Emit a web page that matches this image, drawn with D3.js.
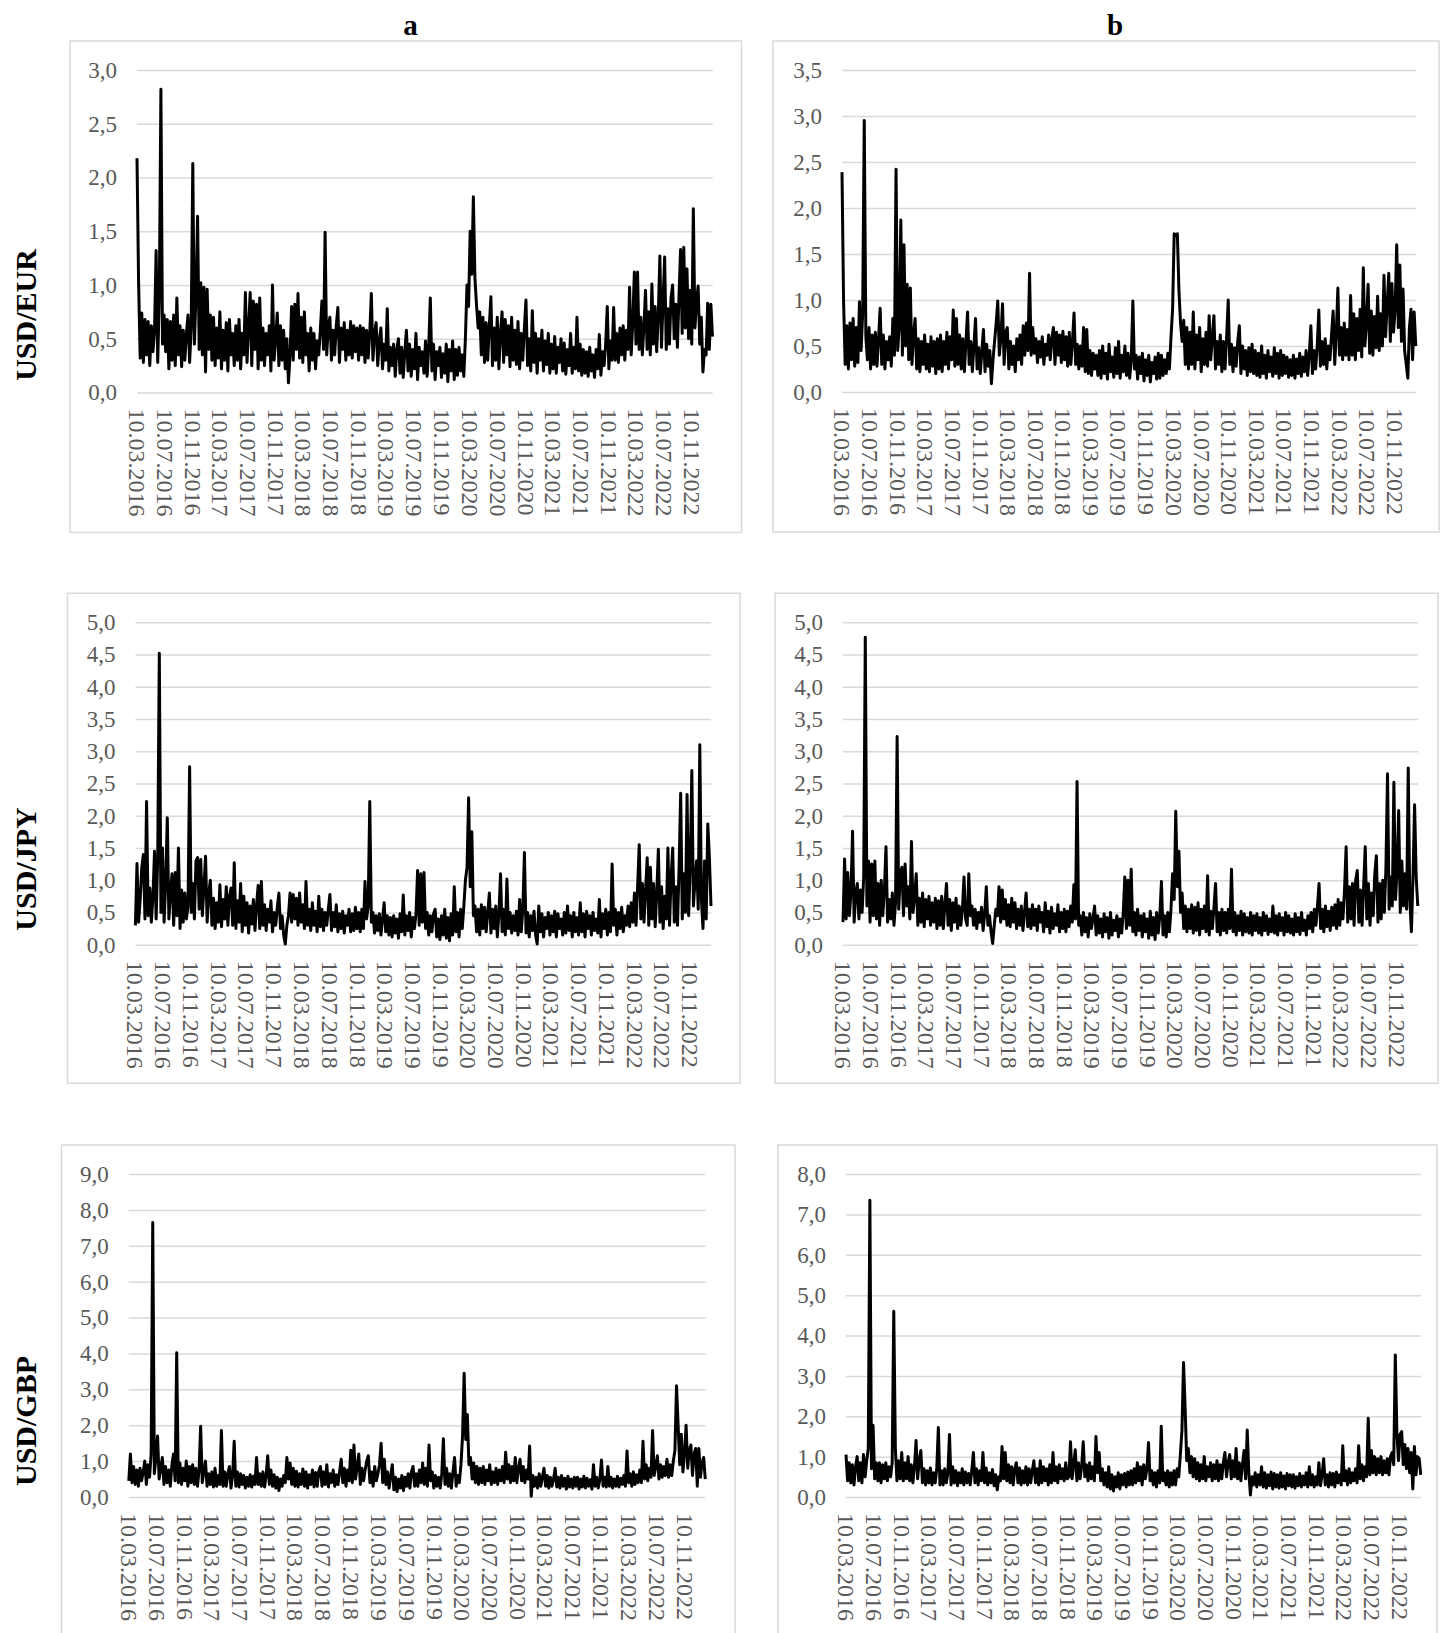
<!DOCTYPE html>
<html>
<head>
<meta charset="utf-8">
<script src="https://cdn.jsdelivr.net/npm/d3@7"></script>
<style>
    body { margin: 0; background: #ffffff; }
    svg { display: block; }
    text { font-family: "Liberation Serif", "Times New Roman", serif; }
</style>
</head>
<body>
<svg id="chart" width="1442" height="1633"></svg>
<script>
// popisky casove osy (kazde 4 mesice)
const tickLabels = [
    "10.03.2016", "10.07.2016", "10.11.2016", "10.03.2017", "10.07.2017", "10.11.2017",
    "10.03.2018", "10.07.2018", "10.11.2018", "10.03.2019", "10.07.2019", "10.11.2019",
    "10.03.2020", "10.07.2020", "10.11.2020", "10.03.2021", "10.07.2021", "10.11.2021",
    "10.03.2022", "10.07.2022", "10.11.2022"
];
const rowNames = ["USD/EUR", "USD/JPY", "USD/GBP"];
const colNames = ["a", "b"];
// rozsah dat, hodnoty jsou po tydnech
const firstDay = "10.03.2016";
const lastDay = "10.02.2023";
const stepDays = 7;

// USD/EUR, a
const eurA = [
    2.18,1.02,0.32,0.74,0.28,0.68,0.35,0.66,0.25,0.62,0.38,0.58,1.32,0.28,0.90,2.82,0.45,0.72,0.38,0.68,
    0.22,0.66,0.30,0.72,0.25,0.88,0.35,0.62,0.24,0.58,0.30,0.55,0.72,0.28,0.60,2.13,0.45,0.90,1.64,0.40,
    1.02,0.35,0.98,0.19,0.96,0.40,0.72,0.30,0.70,0.25,0.60,0.32,0.75,0.22,0.58,0.30,0.65,0.20,0.68,0.35,
    0.55,0.25,0.62,0.30,0.68,0.22,0.55,0.35,0.93,0.28,0.60,0.93,0.25,0.85,0.40,0.82,0.22,0.88,0.30,0.60,
    0.25,0.55,0.35,0.62,0.20,1.00,0.30,0.50,0.74,0.25,0.62,0.30,0.58,0.22,0.50,0.09,0.35,0.80,0.30,0.82,
    0.40,0.92,0.32,0.70,0.28,0.75,0.35,0.55,0.20,0.60,0.30,0.55,0.22,0.48,0.35,0.58,0.85,0.40,1.49,0.35,
    0.62,0.70,0.30,0.58,0.35,0.62,0.79,0.28,0.60,0.40,0.65,0.30,0.58,0.35,0.66,0.32,0.62,0.38,0.60,0.30,
    0.62,0.35,0.60,0.28,0.58,0.32,0.55,0.92,0.30,0.55,0.65,0.25,0.48,0.60,0.22,0.45,0.30,0.78,0.20,0.42,
    0.25,0.45,0.15,0.40,0.50,0.18,0.42,0.14,0.38,0.58,0.20,0.45,0.15,0.40,0.22,0.55,0.12,0.42,0.25,0.38,
    0.18,0.48,0.15,0.42,0.88,0.20,0.45,0.12,0.38,0.25,0.42,0.14,0.36,0.18,0.45,0.10,0.40,0.20,0.48,0.12,
    0.40,0.16,0.42,0.20,0.35,0.15,0.50,1.00,0.80,1.50,1.10,1.82,1.06,0.81,0.60,0.75,0.35,0.70,0.28,0.65,
    0.30,0.62,0.89,0.25,0.60,0.30,0.70,0.22,0.55,0.75,0.28,0.68,0.35,0.62,0.24,0.70,0.30,0.58,0.26,0.66,
    0.22,0.55,0.30,0.60,0.86,0.25,0.50,0.20,0.76,0.28,0.55,0.18,0.50,0.30,0.58,0.20,0.48,0.26,0.55,0.18,
    0.45,0.22,0.52,0.18,0.42,0.28,0.50,0.20,0.46,0.17,0.40,0.25,0.55,0.18,0.42,0.22,0.70,0.20,0.45,0.16,
    0.40,0.18,0.38,0.15,0.42,0.20,0.35,0.14,0.40,0.22,0.54,0.16,0.38,0.25,0.45,0.80,0.22,0.48,0.30,0.79,
    0.30,0.55,0.28,0.60,0.35,0.62,0.30,0.58,0.40,0.98,0.35,0.65,1.12,0.45,1.12,0.40,0.70,0.35,0.62,0.95,
    0.40,0.75,0.35,1.01,0.45,0.80,0.38,0.72,1.27,0.42,0.85,1.26,0.40,0.78,0.45,0.88,1.00,0.50,0.82,0.42,
    0.90,1.33,0.55,1.35,0.60,1.15,0.50,0.95,0.45,1.71,0.60,0.85,0.99,0.45,0.70,0.19,0.40,0.35,0.83,0.40,
    0.82,0.52
];

// USD/EUR, b
const eurB = [
    2.39,0.98,0.30,0.72,0.25,0.75,0.35,0.80,0.28,0.70,0.32,0.98,0.45,0.85,2.95,0.60,0.35,0.70,0.25,0.62,
    0.30,0.65,0.28,0.58,0.91,0.30,0.62,0.25,0.55,0.35,0.60,0.28,0.80,0.40,2.42,0.45,0.70,1.87,0.40,1.60,
    0.50,1.17,0.35,1.13,0.30,0.62,0.80,0.25,0.58,0.22,0.55,0.30,0.62,0.25,0.52,0.22,0.60,0.28,0.55,0.20,
    0.58,0.25,0.62,0.22,0.55,0.30,0.65,0.25,0.60,0.35,0.89,0.28,0.80,0.30,0.62,0.25,0.58,0.22,0.55,0.87,
    0.30,0.55,0.22,0.50,0.80,0.25,0.48,0.20,0.45,0.68,0.22,0.52,0.28,0.45,0.09,0.35,0.55,0.75,0.99,0.40,
    0.60,0.96,0.30,0.65,0.70,0.25,0.55,0.30,0.50,0.22,0.58,0.35,0.62,0.30,0.72,0.40,0.75,0.45,1.29,0.40,
    0.70,0.42,0.58,0.32,0.55,0.38,0.60,0.30,0.52,0.40,0.62,0.35,0.58,0.70,0.30,0.65,0.40,0.62,0.32,0.66,
    0.35,0.60,0.28,0.65,0.30,0.55,0.86,0.30,0.52,0.25,0.50,0.28,0.70,0.22,0.68,0.20,0.45,0.18,0.42,0.25,
    0.40,0.18,0.45,0.15,0.50,0.20,0.42,0.14,0.52,0.22,0.38,0.16,0.48,0.20,0.55,0.15,0.40,0.22,0.50,0.18,
    0.42,0.15,0.35,0.99,0.25,0.40,0.14,0.38,0.20,0.42,0.12,0.35,0.18,0.40,0.11,0.32,0.20,0.38,0.14,0.42,
    0.15,0.40,0.18,0.35,0.20,0.42,0.25,0.60,0.90,1.72,1.70,1.72,1.10,0.75,0.55,0.78,0.30,0.70,0.25,0.65,
    0.30,0.87,0.25,0.62,0.35,0.70,0.22,0.58,0.30,0.65,0.28,0.83,0.35,0.60,0.83,0.25,0.55,0.30,0.62,0.22,
    0.55,0.25,0.60,1.00,0.30,0.52,0.22,0.48,0.28,0.55,0.72,0.20,0.50,0.25,0.45,0.18,0.48,0.22,0.52,0.20,
    0.45,0.18,0.42,0.16,0.50,0.20,0.40,0.15,0.45,0.22,0.38,0.17,0.48,0.20,0.42,0.15,0.45,0.18,0.40,0.20,
    0.38,0.16,0.35,0.18,0.40,0.15,0.36,0.20,0.42,0.17,0.38,0.22,0.45,0.18,0.40,0.72,0.20,0.45,0.25,0.50,
    0.89,0.28,0.55,0.30,0.58,0.25,0.50,0.35,0.62,0.88,0.30,0.65,1.13,0.40,0.70,0.35,0.75,0.40,0.68,0.35,
    1.05,0.40,0.85,0.35,0.80,0.45,0.90,0.38,1.35,0.50,0.75,1.17,0.42,0.88,0.40,0.82,0.48,1.04,0.45,0.85,
    0.50,1.27,0.60,0.95,1.29,0.55,1.18,0.65,0.90,1.60,0.70,1.38,0.55,1.12,0.45,0.30,0.15,0.70,0.90,0.35,
    0.87,0.50
];

// USD/JPY, a
const jpyA = [
    0.30,1.26,0.35,0.70,1.20,1.40,0.40,2.22,0.45,0.88,0.35,0.75,1.45,0.40,1.35,4.52,0.50,1.50,0.35,0.95,
    1.97,0.40,0.80,1.10,0.30,1.12,0.45,1.50,0.25,0.85,0.35,0.80,0.40,0.60,2.76,0.50,0.95,0.40,1.30,1.35,
    0.55,1.32,0.45,0.90,1.37,0.35,0.80,1.00,0.30,0.72,0.25,0.65,0.35,0.93,0.28,0.70,0.40,0.90,0.30,0.75,
    0.88,0.30,1.27,0.25,0.68,0.35,0.95,0.20,0.75,0.30,0.65,0.18,0.60,0.32,0.70,0.22,0.62,0.92,0.25,0.98,
    0.30,0.62,0.22,0.55,0.35,0.68,0.20,0.50,0.30,0.58,0.80,0.25,0.45,0.15,0.01,0.30,0.45,0.80,0.35,0.78,
    0.40,0.72,0.30,0.80,0.35,0.62,0.25,0.98,0.30,0.55,0.22,0.65,0.30,0.52,0.20,0.75,0.28,0.55,0.22,0.50,
    0.30,0.55,0.78,0.22,0.50,0.28,0.62,0.20,0.48,0.25,0.52,0.18,0.45,0.30,0.55,0.20,0.48,0.22,0.58,0.25,
    0.50,0.20,0.55,0.25,0.98,0.40,0.60,2.22,0.35,0.50,0.18,0.45,0.22,0.48,0.15,0.40,0.65,0.20,0.45,0.15,
    0.42,0.12,0.45,0.18,0.40,0.10,0.48,0.20,0.77,0.15,0.45,0.22,0.50,0.12,0.42,0.25,0.48,1.15,0.30,1.10,
    0.35,1.12,0.25,0.50,0.15,0.45,0.20,0.48,0.55,0.12,0.40,0.08,0.45,0.15,0.55,0.10,0.42,0.06,0.48,0.15,
    0.90,0.20,0.50,0.12,0.55,0.25,0.60,1.00,1.20,2.28,0.90,1.75,0.45,0.60,0.20,0.55,0.15,0.62,0.25,0.58,
    0.20,0.50,0.80,0.18,0.55,0.25,0.60,0.12,0.48,1.10,0.20,0.55,0.15,1.02,0.25,0.50,0.18,0.45,0.22,0.52,
    0.15,0.70,0.20,0.55,1.43,0.18,0.50,0.12,0.45,0.22,0.52,0.15,0.01,0.60,0.20,0.48,0.12,0.42,0.25,0.50,
    0.15,0.45,0.20,0.52,0.12,0.48,0.25,0.40,0.15,0.50,0.18,0.60,0.22,0.45,0.12,0.50,0.20,0.42,0.15,0.65,
    0.20,0.48,0.12,0.52,0.25,0.45,0.15,0.50,0.22,0.40,0.18,0.70,0.12,0.48,0.25,0.55,0.15,0.50,0.20,1.25,
    0.30,0.55,0.15,0.50,0.25,0.58,0.20,0.45,0.30,0.60,0.28,0.65,0.35,0.80,0.30,0.90,1.55,0.40,0.95,0.35,
    0.85,1.35,0.30,1.20,0.40,0.95,0.28,0.80,1.48,0.35,0.90,0.25,0.75,0.40,1.50,0.30,1.05,1.50,0.35,0.90,
    0.30,1.20,2.35,0.40,1.10,0.50,2.33,0.45,1.25,2.70,0.60,1.00,1.30,0.55,3.10,0.70,0.25,1.30,0.40,1.87,
    1.35,0.60
];

// USD/JPY, b
const jpyB = [
    0.35,1.33,0.40,1.12,0.45,0.80,1.76,0.35,0.80,0.95,0.40,0.85,0.50,1.05,4.77,0.60,1.30,0.35,1.25,0.45,
    1.30,0.40,0.95,0.30,1.00,0.45,0.85,1.52,0.35,0.70,0.40,0.80,0.30,0.65,3.23,0.55,1.10,1.20,0.45,1.25,
    0.60,0.90,0.40,1.60,0.50,0.75,1.10,0.30,0.72,0.35,0.80,0.28,0.70,0.40,0.75,0.30,0.65,0.35,0.72,0.25,
    0.68,0.30,0.75,0.25,0.62,0.95,0.30,0.70,0.22,0.65,0.35,0.72,0.25,0.60,0.30,0.55,1.05,0.40,0.30,1.10,
    0.45,0.60,0.30,0.55,0.25,0.50,0.35,0.58,0.22,0.48,0.90,0.30,0.45,0.20,0.02,0.30,0.55,0.45,0.90,0.35,
    0.85,0.40,0.70,0.30,0.62,0.28,0.72,0.35,0.65,0.25,0.55,0.30,0.60,0.22,0.50,0.80,0.28,0.55,0.25,0.62,
    0.30,0.55,0.22,0.60,0.35,0.50,0.20,0.65,0.28,0.52,0.18,0.58,0.25,0.48,0.30,0.62,0.20,0.50,0.25,0.55,
    0.20,0.52,0.28,0.60,0.35,0.93,0.40,2.53,0.30,0.45,0.15,0.50,0.20,0.42,0.12,0.48,0.25,0.40,0.60,0.15,
    0.45,0.18,0.40,0.12,0.48,0.20,0.42,0.10,0.50,0.15,0.38,0.22,0.45,0.12,0.40,0.18,0.48,1.05,0.25,1.00,
    0.30,1.17,0.20,0.50,0.15,0.55,0.22,0.45,0.12,0.48,0.20,0.40,0.10,0.52,0.15,0.42,0.08,0.50,0.18,0.45,
    0.98,0.15,0.45,0.12,0.50,0.20,0.55,1.10,0.70,2.07,0.90,1.45,0.50,0.80,0.25,0.60,0.20,0.55,0.25,0.62,
    0.18,0.58,0.22,0.65,0.15,0.55,0.25,0.60,0.20,1.07,0.15,0.52,0.25,0.58,0.95,0.20,0.50,0.15,0.55,0.22,
    0.50,0.18,0.55,0.25,1.17,0.20,0.50,0.15,0.45,0.22,0.52,0.15,0.48,0.20,0.42,0.18,0.50,0.15,0.45,0.22,
    0.48,0.18,0.42,0.15,0.50,0.22,0.45,0.16,0.40,0.20,0.60,0.18,0.45,0.15,0.48,0.22,0.42,0.15,0.50,0.20,
    0.45,0.18,0.40,0.15,0.48,0.20,0.42,0.16,0.50,0.22,0.38,0.15,0.45,0.25,0.50,0.20,0.55,0.30,0.60,0.95,
    0.25,0.55,0.20,0.60,0.28,0.52,0.22,0.58,0.30,0.62,0.25,0.70,0.30,0.65,0.40,0.85,1.52,0.35,0.90,0.40,
    0.95,0.30,1.00,1.15,0.35,0.85,0.30,0.90,1.52,0.40,0.95,0.30,0.80,0.45,1.10,1.38,0.35,0.95,0.40,1.00,
    0.50,1.20,2.65,0.55,1.05,0.60,2.52,0.70,1.15,2.08,0.50,1.30,0.60,1.10,0.55,2.74,0.70,0.20,1.05,2.17,
    1.05,0.60
];

// USD/GBP, a
const gbpA = [
    0.45,1.20,0.40,0.85,0.35,0.75,0.30,0.80,0.45,0.70,1.00,0.35,0.90,0.55,1.20,7.65,0.65,1.10,1.70,0.50,
    0.80,1.10,0.35,0.85,0.40,0.75,0.30,0.90,1.20,0.45,4.02,0.40,0.95,0.35,0.80,0.45,1.00,0.30,0.85,0.40,
    0.90,0.35,0.80,0.30,0.75,1.97,0.40,0.70,1.00,0.30,0.65,0.35,0.70,0.28,0.80,0.30,0.60,0.35,1.85,0.30,
    0.70,0.30,0.65,0.85,0.25,0.60,1.55,0.30,0.70,0.28,0.65,0.35,0.60,0.25,0.55,0.30,0.62,0.28,0.58,0.35,
    1.10,0.35,0.65,0.30,0.70,0.28,0.60,1.15,0.35,0.75,0.30,0.62,0.25,0.55,0.18,0.50,0.30,0.60,0.40,1.10,
    0.50,0.95,0.35,0.80,0.30,0.72,0.28,0.65,0.35,0.78,0.30,0.70,0.25,0.62,0.35,0.75,0.28,0.68,0.30,0.72,
    0.85,0.30,0.70,0.35,0.90,0.28,0.65,0.40,0.75,0.30,0.62,0.35,0.70,1.05,0.40,0.80,0.30,0.75,0.45,1.30,
    0.40,1.45,0.50,0.85,1.20,0.35,0.80,0.45,0.75,1.00,1.15,0.40,0.70,0.30,0.85,0.45,0.65,0.90,1.50,0.40,
    1.05,0.35,0.70,0.25,0.60,0.90,0.20,0.55,0.15,0.50,0.25,0.60,0.18,0.55,0.30,0.65,0.25,0.70,0.85,0.30,
    0.65,0.30,0.75,0.40,0.95,0.35,0.80,0.30,1.45,0.45,0.70,0.25,0.60,0.30,0.55,0.25,0.65,1.62,0.35,0.80,
    0.30,0.65,0.25,0.70,1.10,0.30,0.60,0.40,0.90,1.70,3.45,1.60,2.30,0.90,1.10,0.50,0.95,0.40,0.85,0.35,
    0.80,0.40,0.85,0.35,0.75,0.45,0.90,0.35,0.70,0.40,0.80,0.35,0.75,0.45,0.85,0.40,1.25,0.50,0.90,0.40,
    0.85,0.45,1.10,0.40,0.80,1.05,0.45,0.85,0.40,0.75,0.50,1.42,0.02,0.60,0.30,0.55,0.25,0.65,0.30,0.55,
    0.80,0.30,0.60,0.25,0.55,0.30,0.50,0.80,0.28,0.55,0.25,0.60,0.30,0.52,0.22,0.58,0.28,0.50,0.25,0.55,
    0.30,0.55,0.22,0.50,0.28,0.58,0.25,0.52,0.30,0.48,0.22,0.90,0.30,0.55,0.25,0.50,1.03,0.30,0.55,0.28,
    0.85,0.30,0.55,0.25,0.50,0.30,0.58,0.28,0.52,0.35,0.60,0.30,1.28,0.40,0.65,0.30,0.70,0.35,0.62,0.40,
    0.75,0.40,1.55,0.50,0.90,0.45,0.80,0.55,1.85,0.60,0.85,1.15,0.50,0.90,0.55,0.85,0.60,1.05,0.55,0.90,
    0.60,1.00,1.30,3.10,2.00,0.90,1.75,0.70,1.20,2.00,0.80,1.30,1.45,0.60,1.20,1.35,0.30,1.35,0.55,0.95,
    1.10,0.50
];

// USD/GBP, b
const gbpB = [
    1.05,0.40,0.85,0.35,0.80,0.30,0.75,1.00,0.40,0.85,0.35,1.05,0.50,0.90,1.20,7.35,0.70,1.78,0.45,0.85,
    0.40,0.85,0.35,0.80,0.45,0.85,0.40,0.75,0.50,0.85,4.60,1.20,0.40,0.90,0.45,1.10,0.40,0.85,0.45,1.00,
    0.40,0.80,0.35,0.75,1.40,0.45,0.90,1.15,0.35,0.70,0.30,0.65,0.35,0.72,0.30,0.60,0.35,0.70,1.72,0.30,
    0.65,0.30,0.70,0.35,0.60,1.55,0.30,0.75,0.35,0.65,0.28,0.60,0.35,0.70,0.30,0.62,0.35,0.58,0.30,0.65,
    1.10,0.35,0.70,0.30,0.65,0.40,1.10,0.35,0.72,0.30,0.60,0.35,0.68,0.28,0.55,0.18,0.50,0.40,1.25,0.45,
    1.10,0.40,0.80,0.35,0.75,0.30,0.70,0.85,0.35,0.72,0.30,0.65,0.35,0.75,0.30,0.70,0.35,0.65,0.90,0.35,
    0.70,0.30,0.90,0.35,0.75,0.40,0.70,0.30,0.80,0.35,1.10,0.40,0.75,0.35,0.80,0.45,0.70,0.40,0.85,0.45,
    0.50,1.37,0.45,0.80,1.17,0.40,0.85,0.45,0.75,1.37,0.50,0.80,0.40,0.85,0.45,0.75,0.40,1.50,0.60,1.10,
    0.40,0.70,0.30,0.60,0.25,0.75,0.20,0.55,0.15,0.50,0.25,0.60,0.20,0.55,0.30,0.58,0.25,0.62,0.30,0.65,
    0.30,0.70,0.35,0.85,0.40,0.75,0.30,0.80,0.45,0.70,1.35,0.40,0.65,0.30,0.60,0.25,0.65,0.35,1.75,0.40,
    0.60,0.30,0.65,0.25,0.60,0.30,0.65,0.30,0.70,0.50,1.05,1.65,3.33,2.20,0.90,1.20,0.60,1.00,0.50,0.95,
    0.45,0.85,0.40,0.80,0.45,1.00,0.40,0.75,0.50,0.85,0.40,0.80,0.45,0.90,0.40,0.80,0.45,0.85,1.10,0.50,
    0.85,1.05,0.45,0.90,0.50,1.20,0.45,0.85,0.40,0.80,1.15,0.45,1.66,0.60,0.05,0.50,0.30,0.60,0.25,0.55,
    0.30,0.75,0.25,0.60,0.22,0.55,0.28,0.62,0.20,0.58,0.25,0.55,0.22,0.60,0.25,0.52,0.20,0.58,0.28,0.55,
    0.25,0.55,0.22,0.50,0.28,0.58,0.25,0.52,0.30,0.60,0.25,0.75,0.30,0.55,0.25,0.50,0.30,0.85,0.28,0.55,
    0.95,0.30,0.55,0.25,0.60,0.30,0.58,0.25,0.62,0.35,0.55,0.30,1.27,0.40,0.65,0.30,0.70,0.35,0.60,0.40,
    0.70,0.35,1.27,0.45,0.80,0.40,0.75,0.50,1.95,0.55,1.15,0.60,1.00,0.55,0.95,0.60,1.00,0.55,0.90,0.60,
    0.95,0.55,1.00,1.10,0.80,3.52,1.60,0.90,1.55,1.62,0.80,1.30,0.70,1.20,0.60,1.10,0.20,1.25,0.55,1.00,
    0.95,0.55
];

// rozmisteni panelu: ramecek a kreslici plocha
const panels = [
    {values: eurA, max: 3.0, step: 0.5, box: [70, 41, 671.5, 491.5], left: 137, right: 712.7, top: 70, bottom: 392.5},
    {values: eurB, max: 3.5, step: 0.5, box: [773, 41, 666, 491], left: 842, right: 1416, top: 70, bottom: 392},
    {values: jpyA, max: 5.0, step: 0.5, box: [67.5, 593.3, 672.5, 490], left: 135.4, right: 711.2, top: 622.3, bottom: 944.7},
    {values: jpyB, max: 5.0, step: 0.5, box: [775, 593.3, 663, 490], left: 843, right: 1418, top: 622.3, bottom: 944.7},
    {values: gbpA, max: 9.0, step: 1.0, box: [61.5, 1145, 673.5, 520], left: 128.8, right: 705.5, top: 1174, bottom: 1497},
    {values: gbpB, max: 8.0, step: 1.0, box: [778, 1145, 659, 520], left: 846, right: 1421, top: 1174, bottom: 1497}
];
const rowCenters = [315, 869, 1421];
const colCenters = [410.6, 1115];

const svg = d3.select("#chart");
const parse = d3.timeParse("%d.%m.%Y");
const start = parse(firstDay);
const end = parse(lastDay);
const comma = d => d3.format(".1f")(d).replace(".", ",");

// vykresleni jednoho panelu
function drawPanel(p) {
    let x = d3.scaleTime()
        .domain([start, end])
        .range([p.left, p.right]);
    let y = d3.scaleLinear()
        .domain([0, p.max])
        .range([p.bottom, p.top]);

    svg.append("rect")
        .attr("x", p.box[0])
        .attr("y", p.box[1])
        .attr("width", p.box[2])
        .attr("height", p.box[3])
        .attr("fill", "none")
        .attr("stroke", "#d9d9d9")
        .attr("stroke-width", 1.5);

    // mrizka a popisky y
    let gy = svg.append("g")
        .attr("transform", "translate(" + p.left + ",0)")
        .call(d3.axisLeft(y)
            .tickValues(d3.range(0, p.max + p.step / 2, p.step))
            .tickSize(-(p.right - p.left))
            .tickPadding(20)
            .tickFormat(comma));
    gy.select(".domain").remove();
    gy.selectAll(".tick line")
        .attr("stroke", "#d9d9d9")
        .attr("stroke-width", 1.5);
    gy.selectAll(".tick text")
        .attr("fill", "#595959")
        .style("font-size", "23px");

    // datumy pootocene o 90 stupnu
    let gx = svg.append("g")
        .attr("transform", "translate(0," + p.bottom + ")")
        .call(d3.axisBottom(x)
            .tickValues(tickLabels.map(parse))
            .tickSize(0)
            .tickFormat(d3.timeFormat("%d.%m.%Y")));
    gx.select(".domain").remove();
    gx.selectAll(".tick text")
        .attr("fill", "#595959")
        .style("font-size", "24px")
        .attr("text-anchor", "start")
        .attr("transform", "rotate(90)")
        .attr("x", 16)
        .attr("y", 0)
        .attr("dy", "0.35em");

    let line = d3.line()
        .x((d, i) => x(d3.timeDay.offset(start, i * stepDays)))
        .y(d => y(d));
    svg.append("path")
        .datum(p.values)
        .attr("d", line)
        .attr("fill", "none")
        .attr("stroke", "#000000")
        .attr("stroke-width", 3)
        .attr("stroke-linejoin", "round");
}

panels.forEach(drawPanel);

// nadpisy sloupcu
colNames.forEach((name, i) => {
    svg.append("text")
        .attr("x", colCenters[i])
        .attr("y", 34.5)
        .attr("text-anchor", "middle")
        .style("font-size", "29px")
        .style("font-weight", "bold")
        .text(name);
});

// nazvy radku
rowNames.forEach((name, i) => {
    svg.append("text")
        .attr("transform", "translate(25," + rowCenters[i] + ") rotate(-90)")
        .attr("text-anchor", "middle")
        .attr("dy", "0.35em")
        .style("font-size", "30px")
        .style("font-weight", "bold")
        .text(name);
});
</script>
</body>
</html>
